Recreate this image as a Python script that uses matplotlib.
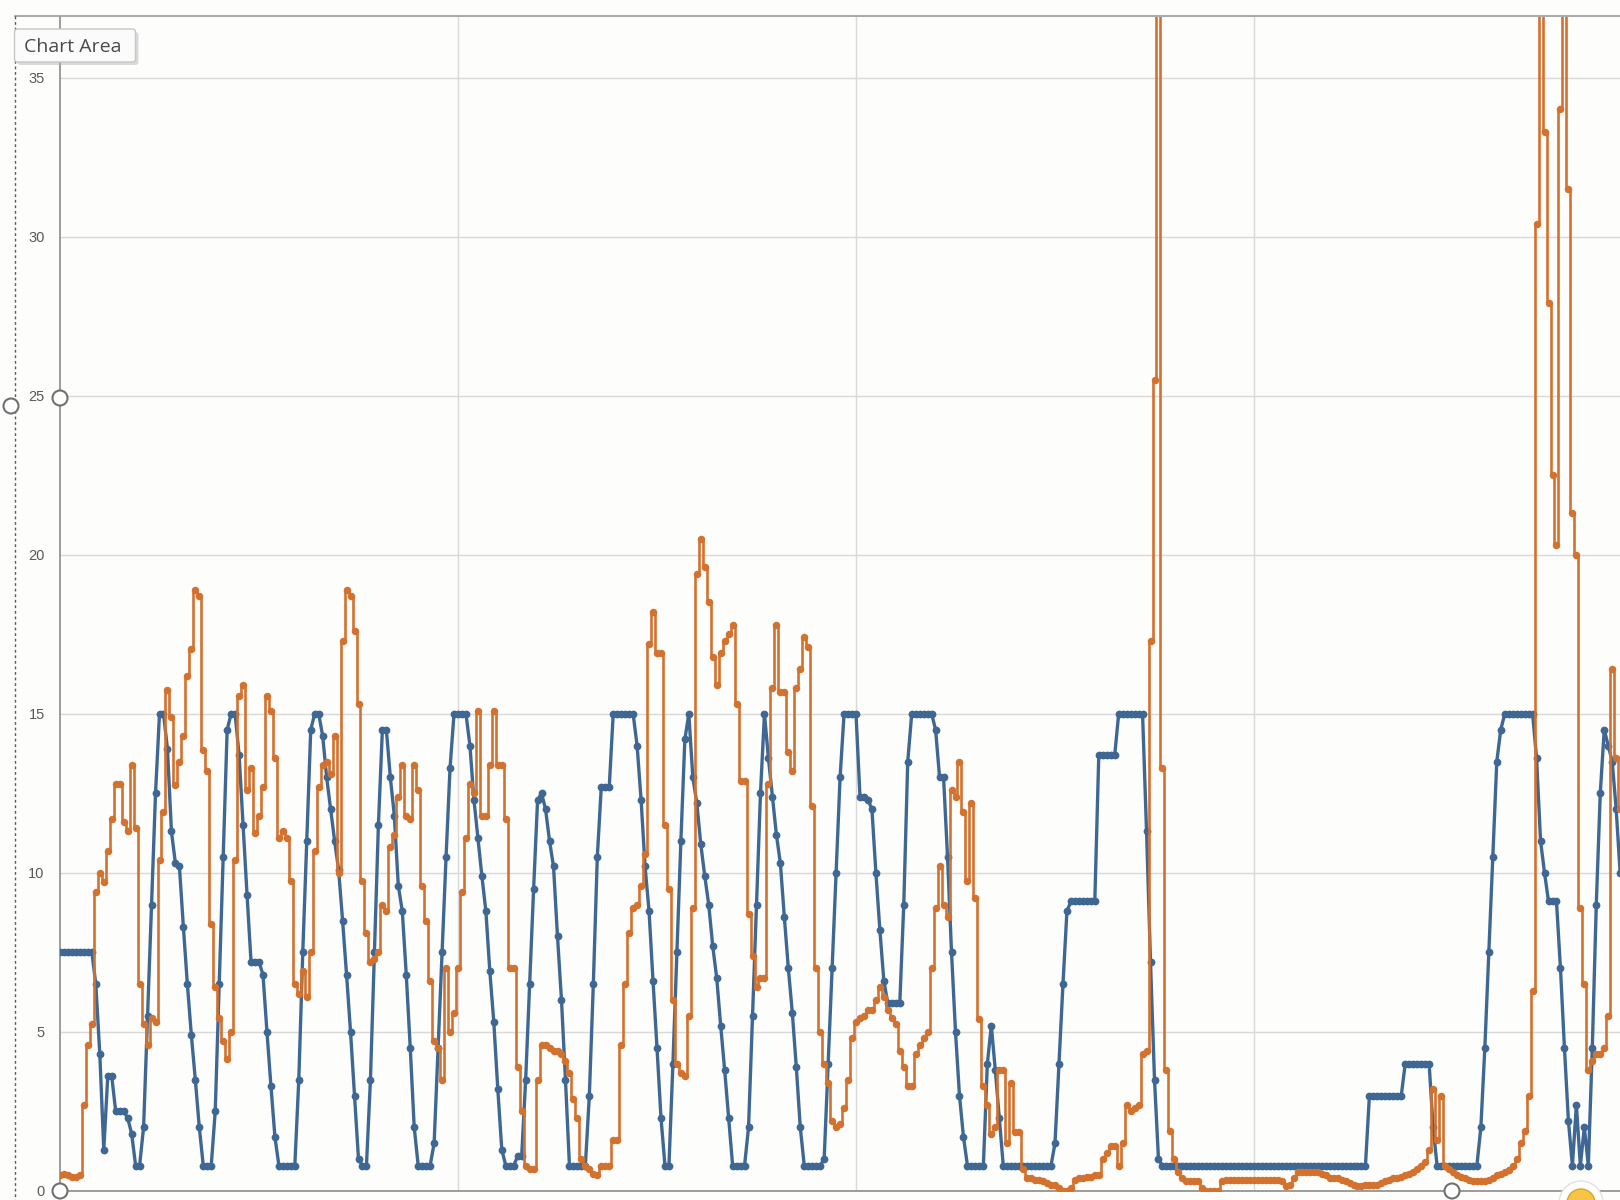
import numpy as np
import matplotlib.pyplot as plt
from matplotlib.lines import Line2D
from matplotlib.patches import Circle, FancyBboxPatch

# Werte je Messpunkt (ca. 100 Punkte pro Gitterfeld)
blue_vals = (
    [7.5] * 9
    + [6.5, 4.3, 1.3, 3.6, 3.6, 2.5, 2.5, 2.5, 2.3, 1.8, 0.8, 0.8]
    + [2.0, 5.5, 9.0, 12.5, 15, 15]
    + [13.9, 11.3, 10.3, 10.2, 8.3, 6.5, 4.9, 3.5, 2.0, 0.8, 0.8, 0.8]
    + [2.5, 6.5, 10.5, 14.5, 15, 15]
    + [13.7, 11.5, 9.3, 7.2, 7.2, 7.2, 6.8, 5.0, 3.3, 1.7, 0.8, 0.8, 0.8, 0.8, 0.8]
    + [3.5, 7.5, 11.0, 14.5, 15, 15]
    + [14.3, 13.0, 12.0, 11.0, 10.1, 8.5, 6.8, 5.0, 3.0, 1.0, 0.8, 0.8]
    + [3.5, 7.5, 11.5, 14.5, 14.5]
    + [13.0, 11.8, 9.6, 8.8, 6.8, 4.5, 2.0, 0.8, 0.8, 0.8, 0.8]
    + [1.5, 4.5, 7.5, 10.5, 13.3, 15, 15, 15, 15]
    + [14.0, 12.3, 11.1, 9.9, 8.8, 6.9, 5.3, 3.2, 1.3, 0.8, 0.8, 0.8, 1.1]
    + [1.1, 3.5, 6.5, 9.5, 12.3, 12.5]
    + [12.0, 11.0, 10.2, 8.0, 6.0, 3.5, 0.8, 0.8, 0.8, 0.8, 0.8]
    + [3.0, 6.5, 10.5, 12.7, 12.7, 12.7, 15, 15, 15, 15, 15, 15]
    + [14.0, 12.3, 10.2, 8.8, 6.6, 4.5, 2.3, 0.8, 0.8]
    + [4.0, 7.5, 11.0, 14.2, 15]
    + [13.0, 12.2, 10.9, 9.9, 9.0, 7.7, 6.7, 5.2, 3.8, 2.3, 0.8, 0.8, 0.8, 0.8]
    + [2.0, 5.5, 9.0, 12.5, 15]
    + [13.6, 12.4, 11.2, 10.3, 8.6, 7.0, 5.6, 3.9, 2.0, 0.8, 0.8, 0.8, 0.8, 0.8]
    + [1.0, 4.0, 7.0, 10.0, 13.0, 15, 15, 15, 15]
    + [12.4, 12.4, 12.3, 12.0, 10.0, 8.2, 6.6, 5.9, 5.9, 5.9, 5.9]
    + [9.0, 13.5, 15, 15, 15, 15, 15, 15, 14.5]
    + [13.0, 13.0, 10.5, 7.5, 5.0, 3.0, 1.7, 0.8, 0.8, 0.8, 0.8, 0.8]
    + [4.0, 5.2, 3.8, 2.3, 0.8]
    + [0.8] * 12
    + [1.5, 4.0, 6.5, 8.8]
    + [9.1] * 7
    + [13.7] * 5
    + [15] * 7
    + [11.3, 7.2, 3.5, 1.0]
    + [0.8] * 52
    + [3.0] * 9
    + [4.0] * 7
    + [2.0]
    + [0.8] * 11
    + [2.0, 4.5, 7.5, 10.5, 13.5, 14.5]
    + [15] * 8
    + [13.6, 11.0, 10.0, 9.1, 9.1, 9.1, 7.0, 4.5, 2.2, 0.8, 2.7, 0.8, 2.0, 0.8,
       4.5, 9.0, 12.5, 14.5, 14.0, 13.5, 12.0, 10.0]
)

orange_vals = [
    0.5, 0.55, 0.5, 0.45, 0.45, 0.5, 2.7, 4.6, 5.25, 9.4,
    10.0, 9.7, 10.7, 11.7, 12.8, 12.8, 11.6, 11.3, 13.4, 11.4,
    6.5, 5.25, 4.6, 5.45, 5.3, 10.4, 11.9, 15.75, 14.9, 12.75,
    13.5, 14.3, 16.2, 17.05, 18.9, 18.7, 13.85, 13.2, 8.4, 6.4,
    5.45, 4.7, 4.15, 5.0, 10.4, 15.55, 15.9, 12.6, 13.3, 11.25,
    11.8, 12.7, 15.55, 15.1, 13.6, 11.1, 11.3, 11.1, 9.75, 6.5,
    6.2, 6.9, 6.1, 7.5, 10.7, 12.7, 13.4, 13.5, 13.1, 14.3,
    10.0, 17.3, 18.9, 18.7, 17.6, 15.3, 9.75, 8.1, 7.2, 7.3,
    7.5, 9.0, 8.8, 10.8, 11.2, 12.4, 13.4, 11.8, 11.7, 13.4,
    12.6, 9.6, 8.5, 6.6, 4.7, 4.5, 3.5, 7.0, 5.0, 5.6,
    7.0, 9.4, 11.1, 12.8, 12.5, 15.1, 11.8, 11.8, 13.4, 15.1,
    13.4, 13.4, 11.7, 7.0, 7.0, 3.9, 2.5, 0.8, 0.7, 0.7,
    3.5, 4.6, 4.6, 4.5, 4.4, 4.4, 4.3, 4.1, 3.7, 2.9,
    2.3, 1.0, 0.8, 0.7, 0.55, 0.5, 0.8, 0.8, 0.8, 1.6,
    1.6, 4.6, 6.5, 8.1, 8.9, 9.0, 9.6, 10.6, 17.2, 18.2,
    16.9, 16.9, 11.5, 9.5, 6.0, 4.0, 3.7, 3.6, 5.5, 8.9,
    19.4, 20.5, 19.6, 18.5, 16.8, 15.9, 16.9, 17.3, 17.5, 17.8,
    15.3, 12.9, 12.9, 8.7, 7.4, 6.4, 6.7, 6.7, 12.8, 15.8,
    17.8, 15.7, 15.7, 13.8, 13.2, 15.8, 16.4, 17.4, 17.1, 12.1,
    7.0, 5.0, 4.0, 3.4, 2.2, 2.0, 2.1, 2.6, 3.5, 4.8,
    5.3, 5.45, 5.5, 5.7, 5.7, 6.0, 6.4, 6.1, 5.7, 5.45,
    5.25, 4.4, 3.9, 3.3, 3.3, 4.3, 4.6, 4.8, 5.0, 7.0,
    8.9, 10.2, 9.0, 8.6, 12.6, 12.4, 13.5, 11.9, 9.75, 12.2,
    9.2, 5.4, 3.3, 2.7, 1.8, 2.0, 3.8, 3.8, 1.5, 3.4,
    1.85, 1.85, 0.7, 0.4, 0.4, 0.35, 0.35, 0.3, 0.25, 0.2,
    0.2, 0.1, 0.0, 0.0, 0.1, 0.35, 0.4, 0.4, 0.45, 0.45,
    0.5, 0.5, 1.0, 1.2, 1.4, 1.4, 0.8, 1.5, 2.7, 2.5,
    2.6, 2.7, 4.3, 4.4, 17.3, 25.5, 48, 13.3, 3.8, 1.9,
    1.0, 0.6, 0.4, 0.3, 0.3, 0.3, 0.3, 0.1, 0.0, 0.0,
    0.0, 0.0, 0.3, 0.35, 0.35, 0.35, 0.35, 0.35, 0.35, 0.35,
    0.35, 0.35, 0.35, 0.35, 0.35, 0.35, 0.35, 0.3, 0.15, 0.2,
    0.4, 0.6, 0.6, 0.6, 0.6, 0.6, 0.6, 0.55, 0.5, 0.4,
    0.4, 0.4, 0.35, 0.3, 0.25, 0.2, 0.15, 0.15, 0.2, 0.2,
    0.2, 0.2, 0.25, 0.3, 0.35, 0.4, 0.4, 0.45, 0.5, 0.55,
    0.6, 0.7, 0.8, 0.9, 1.3, 3.2, 1.6, 3.0, 0.8, 0.7,
    0.6, 0.5, 0.45, 0.4, 0.35, 0.3, 0.3, 0.3, 0.3, 0.35,
    0.4, 0.5, 0.55, 0.6, 0.65, 0.8, 1.0, 1.5, 1.9, 3.0,
    6.3, 30.4, 45, 33.3, 27.9, 22.5, 20.3, 34.0, 45, 31.5,
    21.3, 20.0, 8.9, 6.5, 3.8, 4.1, 4.3, 4.3, 4.5, 5.5,
    16.4, 13.6, 12.0,
]

y_ticks = [0, 5, 10, 15, 20, 25, 30, 35]
x_grid = [100, 200, 300]

BLUE = "#3e6893"
ORANGE = "#d3712e"
BG = "#fdfdfc"

W, H = 1620, 1200
fig = plt.figure(figsize=(W / 100, H / 100), dpi=100, facecolor=BG)

# Plotbereich: links bei x=60 px, unten bei y=1191 px, oben bei y=16.5 px
left, bottom, top = 60, 1191, 16.5
ax = fig.add_axes([left / W, (H - bottom) / H, 1 - left / W, (bottom - top) / H])
ax.set_facecolor(BG)

px_per_unit = (bottom - 77.5) / 35
ax.set_ylim(0, (bottom - top) / px_per_unit)
ax.set_xlim(0, (W - left) / 3.98)

ax.plot(np.arange(len(blue_vals)), blue_vals, color=BLUE, lw=2.4,
        marker="o", ms=5.6, mew=0, zorder=3)
ax.plot(np.arange(len(orange_vals)), orange_vals, color=ORANGE, lw=1.9,
        marker="o", ms=5.4, mew=0, drawstyle="steps-mid", zorder=4)

ax.set_yticks(y_ticks)
ax.set_xticks(x_grid)
ax.set_xticklabels([])
ax.grid(True, color="#d9d9d9", lw=1.0, zorder=0)
ax.set_axisbelow(True)
ax.tick_params(length=0, pad=11, labelsize=10.5, labelcolor="#595959")
for lab in ax.get_yticklabels():
    lab.set_fontfamily("Liberation Sans")
for side in ["top", "right"]:
    ax.spines[side].set_visible(False)
for side in ["left", "bottom"]:
    ax.spines[side].set_color("#8c8c8c")
    ax.spines[side].set_linewidth(1.2)

# Rahmen / Auswahlmarkierungen aus dem Excel-Screenshot
tr = fig.dpi_scale_trans


def P(x, y):
    return (x / 100, (H - y) / 100)


fig.add_artist(Line2D([15 / 100, W / 100], [(H - 16) / 100] * 2, transform=tr,
                      color="#9a9a9a", lw=1.2))
fig.add_artist(Line2D([15 / 100] * 2, [(H - 16) / 100, 0], transform=tr,
                      color="#505a6a", lw=1.0, ls=(0, (2, 2))))

for cx, cy in [(60, 398), (11, 406), (60, 1191), (1452, 1191)]:
    fig.add_artist(Circle(P(cx, cy), 7.5 / 100, transform=tr, fc="white",
                          ec="#707070", lw=1.5, zorder=5))

fig.add_artist(Circle(P(1581, 1203), 22 / 100, transform=tr, fc="white",
                      ec="#e2e2e2", lw=1.0, zorder=5))
fig.add_artist(Circle(P(1581, 1203), 14 / 100, transform=tr, fc="#f6c544",
                      ec="#d9a42a", lw=1.0, zorder=6))

# Tooltip "Chart Area"
x0, y0, bw, bh = 14.5, 29, 121, 33
fig.add_artist(FancyBboxPatch(P(x0 + 3, y0 + bh + 3), bw / 100, bh / 100,
                              boxstyle="round,pad=0,rounding_size=0.03",
                              transform=tr, fc="#b0b0b0", ec="none",
                              alpha=0.45, zorder=6))
fig.add_artist(FancyBboxPatch(P(x0, y0 + bh), bw / 100, bh / 100,
                              boxstyle="round,pad=0,rounding_size=0.03",
                              transform=tr, fc="#fbfbfb", ec="#c6c6c6",
                              lw=1.0, zorder=7))
fig.text(*P(24, y0 + bh / 2 + 1), "Chart Area", transform=tr, ha="left",
         va="center", fontsize=14, color="#4a4a4a", family="Open Sans",
         zorder=8)

fig.savefig("out.png", dpi=100, facecolor=BG)
